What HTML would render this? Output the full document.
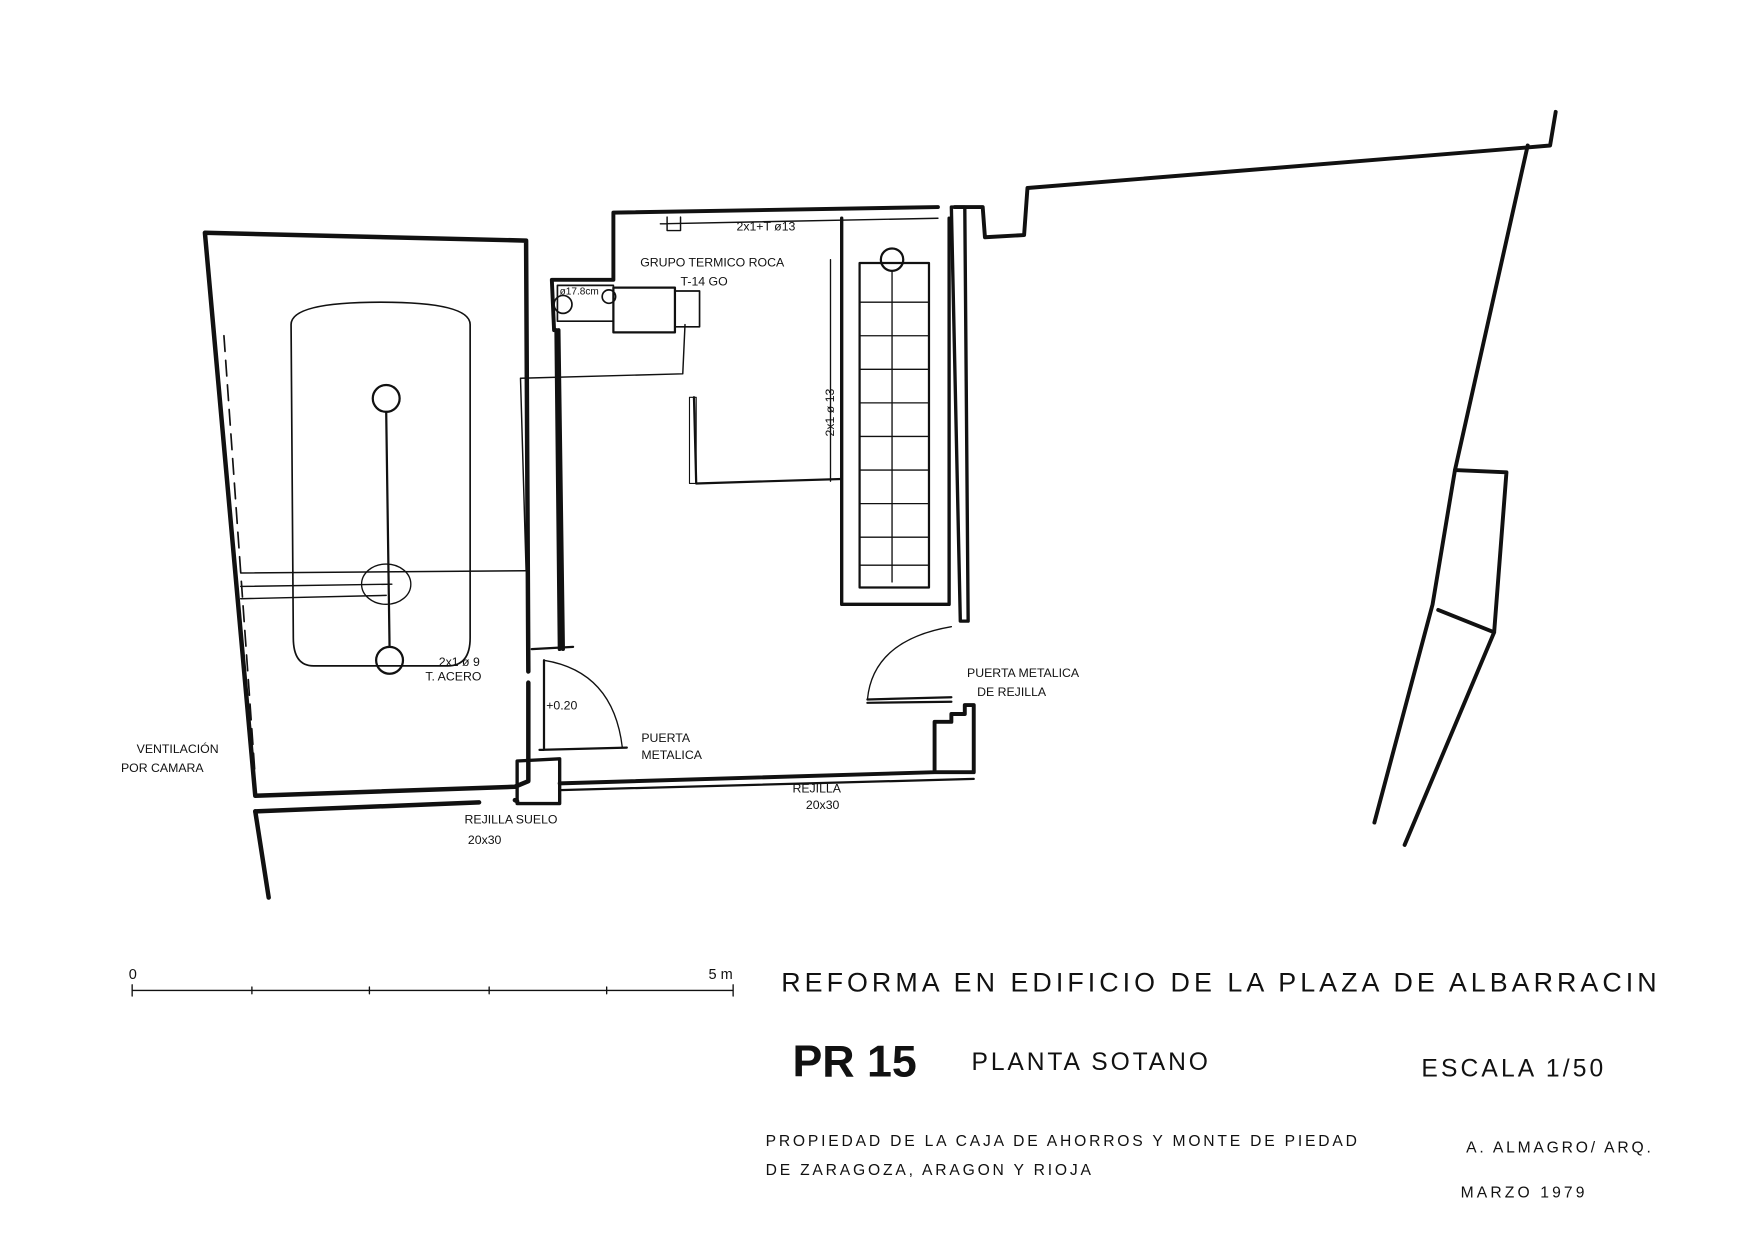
<!DOCTYPE html>
<html><head><meta charset="utf-8"><style>
html,body{margin:0;padding:0;background:#fff;}
svg{display:block}
text{font-family:"Liberation Sans",sans-serif;fill:#111}
</style></head><body>
<svg width="1755" height="1240" viewBox="0 0 1568 1108" xmlns="http://www.w3.org/2000/svg">
<rect width="1568" height="1108" fill="#fff"/>
<g fill="none" stroke="#111" stroke-linecap="round" stroke-linejoin="round">
<path d="M183 208 L470 215 L472 600 M472 610 L472 698 L460 703 L228 711 L183 208" stroke-width="4"/>
<path d="M228 725 L428 717 M460 715 L462 716" stroke-width="4"/>
<path d="M228 725 L240 802" stroke-width="4"/>
<path d="M200 300 L228 695" stroke-width="1.5" stroke-dasharray="14 8"/>
<path d="M260 290 Q260 270 340 270 Q420 270 420 290 L420 570 Q420 595 400 595 L280 595 Q262 595 262 570 Z" stroke-width="1.5"/>
<circle cx="345" cy="356" r="12" stroke-width="2"/>
<circle cx="348" cy="590" r="12" stroke-width="2"/>
<path d="M345 368 L348 578" stroke-width="2"/>
<ellipse cx="345" cy="522" rx="22" ry="18" stroke-width="1.2"/>
<path d="M215 512 L470 510 M215 535 L345 532 M215 524 L350 522" stroke-width="1.3"/>
<path d="M465 338 L470 510 M465 338 L610 334 L612 290" stroke-width="1.3"/>
<path d="M548 190 L838 185 M548 190 L548 250 L493 250 L495 295 M499 295 L503 580 M497 295 L500 580" stroke-width="3.5"/>
<path d="M475 580 L512 578 M486 590 L486 670 M482 670 L560 668" stroke-width="2"/>
<path d="M462 680 L500 678 L500 718 L462 718 Z" stroke-width="3"/>
<path d="M500 700 L835 690 L835 645 L850 645 L850 638 L862 638 L862 630 L870 630 L870 690 L835 690" stroke-width="3.5"/>
<path d="M500 706 L870 696" stroke-width="2"/>
<path d="M850 185 L858 555 L865 555 L862 185 Z" stroke-width="3"/>
<path d="M486 590 Q548 600 556 668" stroke-width="1.2"/>
<path d="M775 625 Q780 572 850 560" stroke-width="1.2"/>
<path d="M775 625 L850 623 M775 628 L850 627" stroke-width="2"/>
<path d="M620 355 L622 432 L752 428" stroke-width="2"/>
<path d="M616 355 L622 355 L622 432 L616 432 Z" stroke-width="1"/>
<rect x="548" y="257" width="55" height="40" stroke-width="2"/>
<rect x="603" y="260" width="22" height="32" stroke-width="1.5"/>
<path d="M498 255 L548 255 L548 287 L498 287 Z" stroke-width="1.5"/>
<circle cx="503" cy="272" r="8" stroke-width="1.5"/>
<circle cx="544" cy="265" r="6" stroke-width="1.5"/>
<path d="M590 200 L838 195 M596 194 L596 206 L608 206 L608 194" stroke-width="1.3"/>
<path d="M752 195 L752 540 L848 540 L848 195" stroke-width="3"/>
<path d="M768 235 L768 525 L830 525 L830 235 Z" stroke-width="2"/>
<path d="M769 270 H829 M769 300 H829 M769 330 H829 M769 360 H829 M769 390 H829 M769 420 H829 M769 450 H829 M769 480 H829 M769 505 H829" stroke-width="1.2"/>
<circle cx="797" cy="232" r="10" stroke-width="2"/>
<path d="M797 242 L797 520 M742 232 L742 430" stroke-width="1.2"/>
<path d="M853 185 L878 185 L880 212 L915 210 L918 168 L1362 132 L1385 130 L1390 100" stroke-width="3.5"/>
<path d="M1365 130 L1300 420 L1280 540 L1228 735" stroke-width="3.5"/>
<path d="M1300 420 L1346 422 L1335 565 L1285 545 M1335 565 L1255 755" stroke-width="3.5"/>
<path d="M118 885 L655 885 M118 880 L118 890 M225 882 L225 888 M330 882 L330 888 M437 882 L437 888 M542 882 L542 888 M655 880 L655 890" stroke-width="1.2"/>
</g>
<g font-size="11">
<text x="658" y="206">2x1+T ø13</text>
<text x="572" y="238">GRUPO TERMICO ROCA</text>
<text x="608" y="255">T-14 GO</text>
<text x="500" y="263" font-size="9">ø17.8cm</text>
<text x="745" y="390" transform="rotate(-90 745 390)">2x1 ø 13</text>
<text x="392" y="595">2x1 ø 9</text>
<text x="380" y="608">T. ACERO</text>
<text x="488" y="634">+0.20</text>
<text x="573" y="663">PUERTA</text>
<text x="573" y="678">METALICA</text>
<text x="864" y="605">PUERTA METALICA</text>
<text x="873" y="622">DE REJILLA</text>
<text x="122" y="673">VENTILACIÓN</text>
<text x="108" y="690">POR CAMARA</text>
<text x="415" y="736">REJILLA SUELO</text>
<text x="418" y="754">20x30</text>
<text x="708" y="708">REJILLA</text>
<text x="720" y="723">20x30</text>
<text x="115" y="875" font-size="13">0</text>
<text x="633" y="875" font-size="13">5 m</text>
</g>
<text x="698" y="886" font-size="24" letter-spacing="3.6">REFORMA EN EDIFICIO DE LA PLAZA DE ALBARRACIN</text>
<text x="708" y="962" font-size="40" font-weight="bold">PR 15</text>
<text x="868" y="956" font-size="22" letter-spacing="2.6">PLANTA SOTANO</text>
<text x="1270" y="962" font-size="22" letter-spacing="2.8">ESCALA 1/50</text>
<text x="684" y="1024" font-size="14" letter-spacing="2.5">PROPIEDAD DE LA CAJA DE AHORROS Y MONTE DE PIEDAD</text>
<text x="684" y="1050" font-size="14" letter-spacing="2.5">DE ZARAGOZA, ARAGON Y RIOJA</text>
<text x="1310" y="1030" font-size="14" letter-spacing="2.5">A. ALMAGRO/ ARQ.</text>
<text x="1305" y="1070" font-size="14" letter-spacing="2.8">MARZO 1979</text>
</svg>
</body></html>
